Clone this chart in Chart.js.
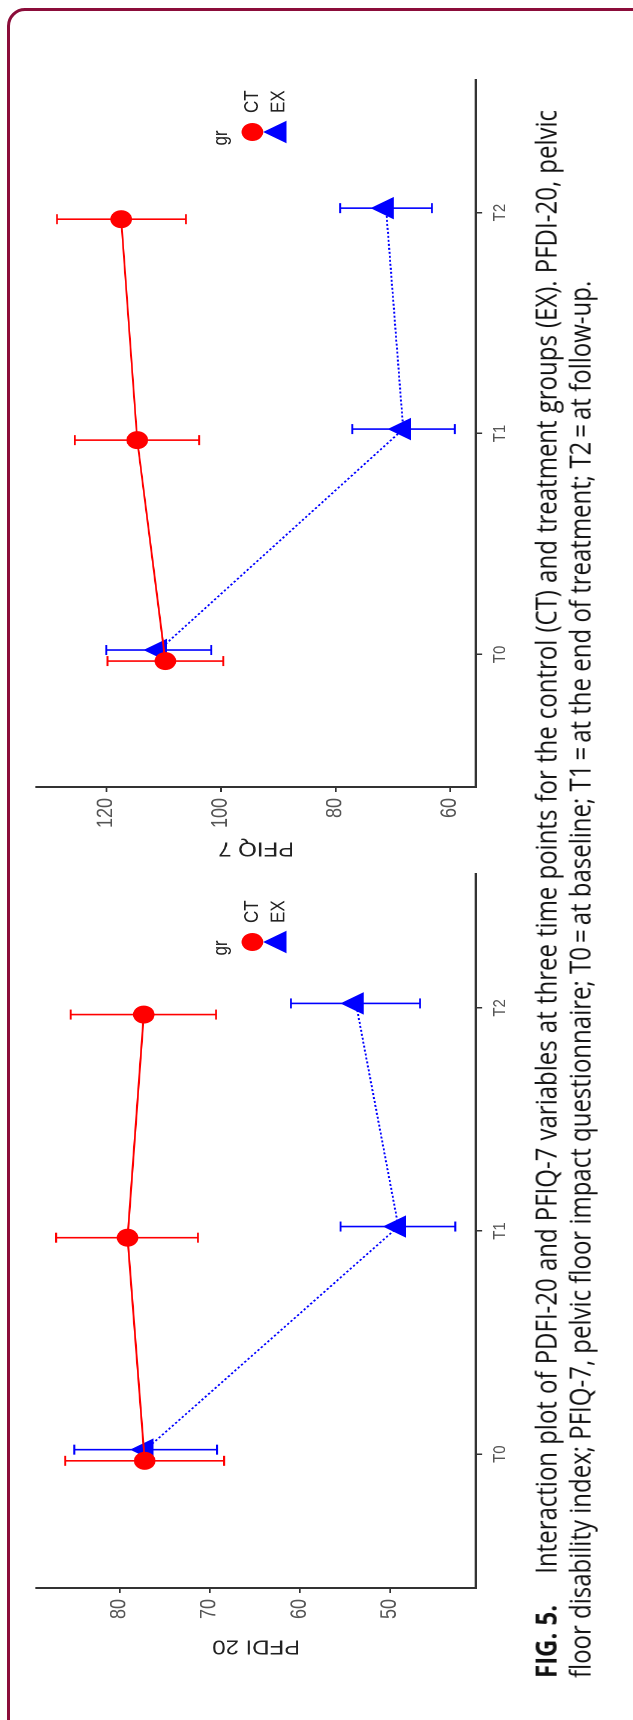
<!DOCTYPE html>
<html>
<head>
<meta charset="utf-8">
<title>FIG. 5</title>
<script src="https://cdn.jsdelivr.net/npm/chart.js@4.4.1/dist/chart.umd.min.js"></script>
<style>
  html, body { margin: 0; padding: 0; background: #fff; }
  body { width: 633px; height: 1720px; position: relative; overflow: hidden; }
  #frame {
    position: absolute; left: 7px; top: 8px; width: 700px; height: 1760px;
    border: 3px solid #8b0d3a; border-radius: 18px; box-sizing: border-box;
  }
  /* the figure is laid out landscape, then turned on its side */
  #fig {
    position: absolute; left: 0; top: 0; width: 1720px; height: 527px;
    transform-origin: 0 0;
    transform: translate(0, 1720px) rotate(-90deg) scale(1, 1.2);
  }
  #c-pfdi { position: absolute; left: 0; top: 0; }
  #c-pfiq { position: absolute; left: 800px; top: 0; }
  .caption {
    position: absolute; left: 42px; width: 1568px;
    font-family: 'Open Sans', 'Noto Sans', sans-serif; font-size: 24px; line-height: normal; color: #111;
  }
  #cap1 { top: 438px; white-space: nowrap; text-align: justify; text-align-last: justify; }
  #cap2 { top: 466px; white-space: nowrap; }
  .fig-no { font-weight: bold; margin-right: 24px; }
</style>
</head>
<body>
<div id="frame"></div>
<div id="fig">
  <canvas id="c-pfdi" width="870" height="440"></canvas>
  <canvas id="c-pfiq" width="900" height="440"></canvas>
  <div class="caption" id="cap1"><span class="fig-no">FIG. 5.</span> Interaction plot of PDFI-20 and PFIQ-7 variables at three time points for the control (CT) and treatment groups (EX). PFDI-20, pelvic</div>
  <div class="caption" id="cap2">floor disability index; PFIQ-7, pelvic floor impact questionnaire; T0&#8201;=&#8201;at baseline; T1&#8201;=&#8201;at the end of treatment; T2&#8201;=&#8201;at follow-up.</div>
</div>

<script>
'use strict';

//***********Data***********
let timeLabels = ['T0', 'T1', 'T2'];
let timeTicks = [0, 1, 2];
// groups are dodged a little around each time point
let ctX = [-0.03, 0.97, 1.97];
let exX = [0.02, 1.02, 2.02];

// PFDI-20
let pfdiCtMean = [77.2, 79.1, 77.3];
let pfdiCtLow = [68.4, 71.3, 69.3];
let pfdiCtHigh = [86.0, 87.0, 85.4];
let pfdiExMean = [77.1, 49.1, 53.8];
let pfdiExLow = [69.2, 42.8, 46.7];
let pfdiExHigh = [85.0, 55.5, 61.0];
let pfdiTicks = [50, 60, 70, 80];

// PFIQ-7
let pfiqCtMean = [109.7, 114.6, 117.4];
let pfiqCtLow = [99.6, 103.8, 106.1];
let pfiqCtHigh = [119.8, 125.5, 128.6];
let pfiqExMean = [110.8, 68.2, 71.2];
let pfiqExLow = [101.7, 59.2, 63.2];
let pfiqExHigh = [120.0, 77.1, 79.2];
let pfiqTicks = [60, 80, 100, 120];

let groupNames = ['CT', 'EX'];

//***********Helpers***********
Chart.defaults.font.family = '"Liberation Sans", Arial, sans-serif';

function toPoints(xs, ys) {
  return xs.map((x, i) => ({ x: x, y: ys[i] }));
}

function drawMarker(ctx, style, x, y, r, color) {
  ctx.fillStyle = color;
  ctx.beginPath();
  if (style === 'triangle') {
    let a = 0;
    for (let k = 0; k < 3; k++) {
      let px = x + Math.sin(a) * r;
      let py = y - Math.cos(a) * r;
      if (k === 0) ctx.moveTo(px, py); else ctx.lineTo(px, py);
      a += Math.PI * 2 / 3;
    }
    ctx.closePath();
  } else {
    ctx.arc(x, y, r, 0, Math.PI * 2);
  }
  ctx.fill();
}

// error bars with caps, drawn under the points
const errorBars = {
  id: 'errorBars',
  beforeDatasetsDraw(chart) {
    let ctx = chart.ctx;
    let xs = chart.scales.x;
    let ys = chart.scales.y;
    ctx.save();
    chart.data.datasets.forEach(ds => {
      ctx.strokeStyle = ds.borderColor;
      ctx.lineWidth = 1.6;
      ds.data.forEach((p, i) => {
        let px = xs.getPixelForValue(p.x);
        let lo = ys.getPixelForValue(ds.low[i]);
        let hi = ys.getPixelForValue(ds.high[i]);
        ctx.beginPath();
        ctx.moveTo(px, lo); ctx.lineTo(px, hi);
        ctx.moveTo(px - 5, lo); ctx.lineTo(px + 5, lo);
        ctx.moveTo(px - 5, hi); ctx.lineTo(px + 5, hi);
        ctx.stroke();
      });
    });
    ctx.restore();
  }
};

// small "gr" legend like the R one
const groupLegend = {
  id: 'groupLegend',
  afterDatasetsDraw(chart, args, opts) {
    let ctx = chart.ctx;
    let area = chart.chartArea;
    let sx = area.right + opts.dx;
    ctx.save();
    ctx.font = '17px "Liberation Sans", Arial, sans-serif';
    ctx.textBaseline = 'middle';
    ctx.fillStyle = '#222';
    ctx.textAlign = 'center';
    ctx.fillText('gr', sx - 6, area.top + opts.titleY);
    chart.data.datasets.forEach((ds, i) => {
      let y = area.top + opts.rowY[i];
      drawMarker(ctx, ds.pointStyle, sx, y, ds.pointRadius, ds.pointBackgroundColor);
      ctx.fillStyle = '#222';
      ctx.textAlign = 'left';
      ctx.fillText(ds.label, sx + 19, y);
    });
    ctx.restore();
  }
};

function axisStyle() {
  return {
    grid: { display: true, drawOnChartArea: false, drawTicks: true, tickLength: 5, color: '#333', lineWidth: 1.5 },
    border: { display: true, color: '#333', width: 2 }
  };
}

function makeChart(canvasId, opts) {
  let ctx = document.getElementById(canvasId).getContext('2d');
  let xAxis = Object.assign(axisStyle(), {
    type: 'linear',
    min: -0.6,
    max: 2.6,
    afterBuildTicks: s => { s.ticks = timeTicks.map(v => ({ value: v })); },
    afterFit: s => { s.height = 43.3; },
    ticks: { autoSkip: false, maxRotation: 0, color: '#555', font: { size: 15 }, padding: 6,
      callback: v => timeLabels[v] }
  });
  let yAxis = Object.assign(axisStyle(), {
    type: 'linear',
    min: opts.min,
    max: opts.max,
    afterBuildTicks: s => { s.ticks = opts.ticks.map(v => ({ value: v })); },
    afterFit: s => { s.width = opts.yWidth; },
    ticks: { autoSkip: false, color: '#555', font: { size: 18 }, padding: 6 },
    title: { display: true, text: opts.title, color: '#222', font: { size: 20 }, padding: { top: opts.titlePad } }
  });

  return new Chart(ctx, {
    type: 'line',
    data: {
      datasets: [{
        label: groupNames[0],
        data: toPoints(ctX, opts.ctMean),
        low: opts.ctLow,
        high: opts.ctHigh,
        borderColor: '#ff0000',
        borderWidth: 1.6,
        pointStyle: 'circle',
        pointRadius: 9,
        pointBackgroundColor: '#ff0000',
        pointBorderWidth: 0
      }, {
        label: groupNames[1],
        data: toPoints(exX, opts.exMean),
        low: opts.exLow,
        high: opts.exHigh,
        borderColor: '#0000ff',
        borderWidth: 1.6,
        borderDash: [2, 2],
        pointStyle: 'triangle',
        pointRadius: 13,
        pointBackgroundColor: '#0000ff',
        pointBorderWidth: 0
      }]
    },
    options: {
      responsive: false,
      animation: false,
      devicePixelRatio: 2,
      layout: { padding: { left: 0, top: 30.3, right: opts.padRight, bottom: 0 } },
      scales: { x: xAxis, y: yAxis },
      plugins: {
        legend: { display: false },
        tooltip: { enabled: false },
        groupLegend: { dx: opts.legendDx, titleY: 154, rowY: [180, 202] }
      }
    },
    plugins: [errorBars, groupLegend]
  });
}

//***********Charts***********
makeChart('c-pfdi', {
  title: 'PFDI 20', min: 40.5, max: 89.2, ticks: pfdiTicks,
  yWidth: 132, padRight: 24, titlePad: 62, legendDx: -68,
  ctMean: pfdiCtMean, ctLow: pfdiCtLow, ctHigh: pfdiCtHigh,
  exMean: pfdiExMean, exLow: pfdiExLow, exHigh: pfdiExHigh
});

makeChart('c-pfiq', {
  title: 'PFIQ 7', min: 55.5, max: 132.2, ticks: pfiqTicks,
  yWidth: 133, padRight: 60, titlePad: 60, legendDx: -52,
  ctMean: pfiqCtMean, ctLow: pfiqCtLow, ctHigh: pfiqCtHigh,
  exMean: pfiqExMean, exLow: pfiqExLow, exHigh: pfiqExHigh
});
</script>
</body>
</html>
